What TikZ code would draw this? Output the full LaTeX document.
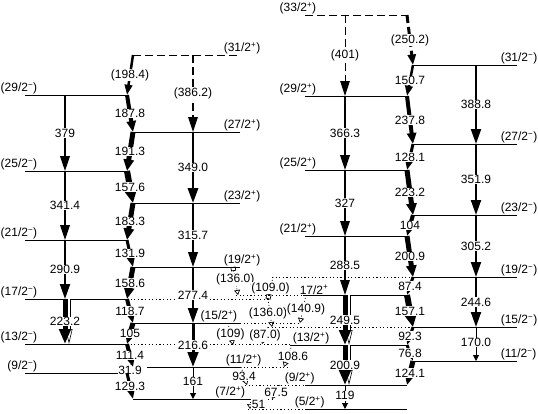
\documentclass[tikz,border=0pt]{standalone}
\usepackage{fontspec}
\setmainfont{Liberation Sans}
\usepackage{tikz}
\usetikzlibrary{arrows.meta}
\tikzset{
  lvl/.style={line width=0.9pt},
  ext/.style={line width=0.9pt,dash pattern=on 1.2pt off 2.4pt},
  tent/.style={dash pattern=on 8pt off 4pt},
  sp/.style={font=\fontsize{12}{13}\selectfont,inner sep=0.6pt},
  tl/.style={font=\fontsize{12}{13}\selectfont,fill=white,inner sep=0.5pt},
  e2/.style={-{Triangle[length=15pt,width=9pt 0.5]},line width=#1},
  e2/.default=1.5pt,
  e2s/.style={-{Triangle[length=6pt,width=6pt]},line width=#1},
  e2s/.default=1pt,
  ce/.style={double,double distance=2pt,line width=0.6pt,-{Triangle[open,length=15pt,width=7pt]}},
  m1/.style={-{Triangle[length=9pt 0.5,width=5pt 1]},line width=#1},
  m1/.default=3pt,
  lk/.style={line width=0.7pt,dash pattern=on 1pt off 2pt,-{Triangle[open,length=5pt,width=6pt]}}
}
\newcommand\jp[2]{(#1/2\textsuperscript{#2})}

\begin{document}
\begin{tikzpicture}[x=1pt,y=-1pt]
\useasboundingbox (0,0) rectangle (538,413);
\foreach \n/\y in {29/95,25/171,21/240,17/299,13/344,9/373} \coordinate (A\n) at (0,\y);
\foreach \n/\y in {31/55,27/132,23/203,19/267,15/323,11/367,7/399} \coordinate (B\n) at (0,\y);
\foreach \n/\y in {33/15,29/96,25/170,21/236,17/295,13/345,9/385,5/409} \coordinate (C\n) at (0,\y);
\foreach \n/\y in {31/65,27/144,23/215,19/277,15/327,11/361} \coordinate (D\n) at (0,\y);
\coordinate (cA) at (65,0); \coordinate (cB) at (193,0);
\coordinate (cC) at (345,0); \coordinate (cD) at (476,0);
\coordinate (zA) at (127,0); \coordinate (zB) at (133,0);
\coordinate (zC) at (407,0); \coordinate (zD) at (413,0);

\foreach \n in {29,25,21,17,13} \draw[lvl] (25,0 |- A\n) -- (zA |- A\n);
\draw[lvl] (25,0 |- A9) -- (118,0 |- A9);
\draw[lvl,tent] (zB |- B31) -- (240,0 |- B31);
\foreach \n in {27,23,19,15} \draw[lvl] (zB |- B\n) -- (240,0 |- B\n);
\draw[lvl] (147,0 |- B11) -- (240,0 |- B11);
\draw[lvl] (zB |- B7) -- (250,0 |- B7);
\draw[lvl,tent] (305,0 |- C33) -- (zC |- C33);
\foreach \n in {29,25,21,9,5} \draw[lvl] (305,0 |- C\n) -- (zC |- C\n);
\draw[lvl] (303,0 |- C17) -- (zC |- C17);
\draw[lvl] (290,0 |- C13) -- (zC |- C13);
\foreach \n in {31,27,23,19,15,11} \draw[lvl] (zD |- D\n) -- (517,0 |- D\n);

\draw[ext] (zA |- A17) -- (270,0 |- A17);
\draw[ext] (236,0 |- C17) -- (303,0 |- C17);
\draw[ext] (272,0 |- D19) -- (zD |- D19);
\draw[ext] (240,0 |- B15) -- (300,0 |- B15);
\draw[ext] (268,0 |- D15) -- (zD |- D15);
\draw[ext] (zA |- A13) -- (290,0 |- A13);
\draw[ext] (240,0 |- B11) -- (290,0 |- B11);
\draw[ext] (245,0 |- C9) -- (305,0 |- C9);
\draw[ext] (250,0 |- B7) -- (275,0 |- B7);
\draw[ext] (248,0 |- C5) -- (305,0 |- C5);

\foreach \n in {29,25,21,17,13,9} \node[sp,anchor=south east] (lA\n) at (38,0 |- A\n) {\jp{\n}{−}};
\foreach \n in {31,27,23,19} \node[sp,anchor=south west] (lB\n) at (223,0 |- B\n) {\jp{\n}{+}};
\node[sp,anchor=south east] (lB15) at (238,0 |- B15) {\jp{15}{+}};
\node[sp,anchor=south west] (lB11) at (225,0 |- B11) {\jp{11}{+}};
\node[sp,anchor=south east] (lB7) at (246,0 |- B7) {\jp{7}{+}};
\foreach \n in {33,29,25,21} \node[sp,anchor=south east] (lC\n) at (317,0 |- C\n) {\jp{\n}{+}};
\node[sp,anchor=south west] (lC17) at (299,0 |- C17) {17/2\textsuperscript{+}};
\node[sp,anchor=south west] (lC13) at (292,0 |- C13) {\jp{13}{+}};
\node[sp,anchor=south west] (lC9) at (284,0 |- C9) {\jp{9}{+}};
\node[sp,anchor=south west] (lC5) at (294,0 |- C5) {\jp{5}{+}};
\foreach \n in {31,27,23,19,15,11} \node[sp,anchor=south west] (lD\n) at (500,0 |- D\n) {\jp{\n}{−}};

\draw[ce] ([xshift=4pt]cA |- A17) -- ([xshift=4pt]cA |- A13);
\draw[ce] ([xshift=4pt]cC |- C17) -- ([xshift=4pt]cC |- C13);
\draw[ce] ([xshift=4pt]cC |- C13) -- ([xshift=4pt]cC |- C9);
\foreach \a/\b/\e/\w in {29/25/379/1.5,25/21/341.4/1.5,21/17/290.9/2,17/13/223.2/4.5}
  \draw[e2=\w pt] (cA |- A\a) -- (cA |- A\b) node[tl,midway] (eA\a) {\e};
\draw[e2=1.2pt,tent] (cB |- B31) -- (cB |- B27) node[tl,midway] (eB31) {(386.2)};
\foreach \a/\b/\e/\w in {27/23/349.0/2.5,23/19/315.7/1.5,19/15/277.4/2,15/11/216.6/3}
  \draw[e2=\w pt] (cB |- B\a) -- (cB |- B\b) node[tl,midway] (eB\a) {\e};
\draw[e2s=1pt] (cB |- B11) -- (cB |- B7) node[tl,pos=0.45] (eB11) {161};
\draw[e2=1pt,tent] (cC |- C33) -- (cC |- C29) node[tl,midway] (eC33) {(401)};
\foreach \a/\b/\e/\w in {29/25/366.3/1.5,25/21/327/1.2,21/17/288.5/1.2,17/13/249.5/4.5,13/9/200.9/4.5}
  \draw[e2=\w pt] (cC |- C\a) -- (cC |- C\b) node[tl,midway] (eC\a) {\e};
\draw[e2s=1pt] (cC |- C9) -- (cC |- C5) node[tl,pos=0.45] (eC9) {119};
\foreach \a/\b/\e/\w in {31/27/388.8/2,27/23/351.9/2,23/19/305.2/2,19/15/244.6/2}
  \draw[e2=\w pt] (cD |- D\a) -- (cD |- D\b) node[tl,midway] (eD\a) {\e};
\draw[e2s=1pt] (cD |- D15) -- (cD |- D11) node[tl,pos=0.45] (eD15) {170.0};

\draw[m1=2.5pt] (zB |- B31) -- (zA |- A29) node[tl,midway] (mB31) {(198.4)};
\foreach \a/\b/\e/\w in {27/25/191.3/5,23/21/183.3/5,19/17/158.6/5,15/13/105/5,11/9/31.9/2}
  \draw[m1=\w pt] (zB |- B\a) -- (zA |- A\b) node[tl,midway] (mB\a) {\e};
\foreach \a/\b/\e/\w in {29/27/187.8/4,25/23/157.6/6,21/19/131.9/3,17/15/118.7/4,13/11/111.4/4,9/7/129.3/3}
  \draw[m1=\w pt] (zA |- A\a) -- (zB |- B\b) node[tl,midway] (mA\a) {\e};
\draw[m1=3pt,tent] (zC |- C33) -- (zD |- D31) node[tl,midway] (mC33) {(250.2)};
\foreach \a/\b/\e/\w in {29/27/237.8/4,25/23/223.2/5,21/19/200.9/5,17/15/157.1/6,13/11/76.8/3}
  \draw[m1=\w pt] (zC |- C\a) -- (zD |- D\b) node[tl,midway] (mC\a) {\e};
\foreach \a/\b/\e/\w in {31/29/150.7/2.5,27/25/128.1/3,23/21/104/4,19/17/87.4/3,15/13/92.3/3,11/9/124.1/5}
  \draw[m1=\w pt] (zD |- D\a) -- (zC |- C\b) node[tl,midway] (mD\a) {\e};

\draw[lk,{Square[open,length=4pt,width=5pt]}-{Triangle[open,length=5pt,width=6pt]}] (233,0 |- B19) -- (238,0 |- C17) node[tl,pos=0.45] (k1) {(136.0)};
\draw[lk,-{Square[open,length=5pt,width=5pt]}] (273,0 |- D19) -- (268,0 |- A17) node[tl,midway] (k2) {(109.0)};
\draw[lk] (268,0 |- A17) -- (272,0 |- D15) node[tl,midway,xshift=-2pt] (k3) {(136.0)};
\draw[lk] (306,0 |- C17) -- (300,0 |- B15) node[tl,midway,xshift=3pt] (k4) {(140.9)};
\draw[lk] (228,0 |- B15) -- (233,0 |- C13) node[tl,midway] (k5) {(109)};
\draw[lk] (268,0 |- D15) -- (262,0 |- A13) node[tl,midway] (k6) {(87.0)};
\draw[lk] (292,0 |- C13) -- (284,0 |- B11) node[tl,midway,xshift=5pt] (k7) {108.6};
\draw[lk] (241,0 |- B11) -- (247,0 |- C9) node[tl,midway] (k8) {93.4};
\draw[lk] (280,0 |- C9) -- (272,0 |- B7) node[tl,midway] (k9) {67.5};
\draw[lk] (250,0 |- B7) -- (250,0 |- C5) node[tl,midway,right=1pt] (k10) {51};
\end{tikzpicture}
\end{document}
